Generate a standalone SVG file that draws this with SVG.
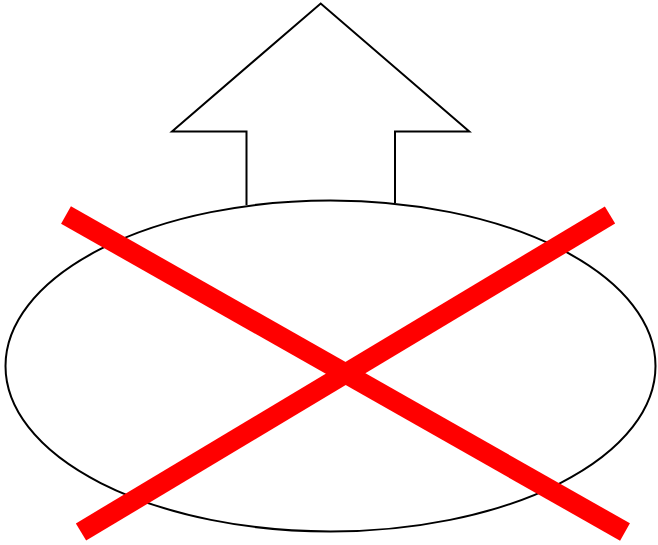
<svg xmlns="http://www.w3.org/2000/svg" width="658" height="545" viewBox="0 0 658 545">
<style>
.o{fill:none;stroke:#000;stroke-width:2;stroke-linejoin:miter}
.x{stroke:#ff0000;stroke-width:20;stroke-linecap:butt}
</style>
<rect width="658" height="545" fill="#fff"/>
<g id="arrow">
<path class="o" d="M246.5,205 L246.5,131.5 L172,131.5 L320.7,3.5 L469.3,131.5 L395,131.5 L395,203"/>
</g>
<g id="ellipse">
<ellipse class="o" cx="330.5" cy="366" rx="325" ry="165.5"/>
</g>
<g id="cross">
<line class="x" x1="66" y1="215" x2="625" y2="532"/>
<line class="x" x1="610" y1="215" x2="81" y2="532"/>
</g>
</svg>
